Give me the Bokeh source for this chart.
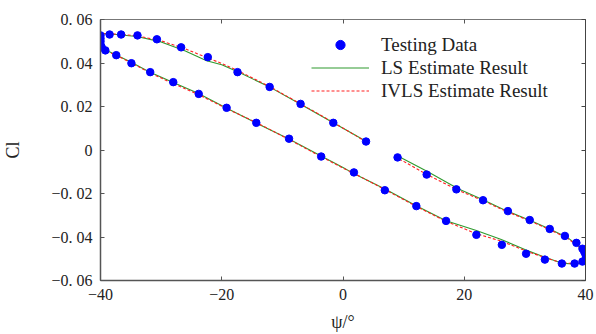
from bokeh.plotting import figure
from bokeh.models import LinearAxis, FixedTicker, Range1d, Legend, LegendItem
from bokeh.embed import file_html
from bokeh.resources import INLINE

# Testing data (psi in degrees, Cl)
test_psi = [3.8, -1.6, -7.0, -12.1, -17.4, -22.3, -26.7, -30.7, -33.9, -36.6,
            -38.5, -40.0, -40.0, -40.0, -40.0, -39.8, -39.2, -37.4, -34.9, -31.8,
            -28.0, -23.8, -19.2, -14.3, -8.9, -3.6, 1.8, 6.9, 12.1, 17.0,
            22.0, 26.2, 30.2, 33.3, 36.1, 38.2, 39.5, 40.0, 40.0, 39.8,
            39.5, 38.5, 36.6, 34.1, 30.8, 27.2, 23.1, 18.7, 13.8, 9.0]
test_cl = [0.0039, 0.0125, 0.0212, 0.0290, 0.0358, 0.0427, 0.0472, 0.0509, 0.0527, 0.0531,
           0.0531, 0.0527, 0.0513, 0.0500, 0.0486, 0.0472, 0.0458, 0.0436, 0.0399, 0.0358,
           0.0312, 0.0258, 0.0194, 0.0125, 0.0052, -0.0030, -0.0103, -0.0185, -0.0258, -0.0326,
           -0.0390, -0.0436, -0.0477, -0.0504, -0.0522, -0.0522, -0.0513, -0.0504, -0.0481, -0.0468,
           -0.0454, -0.0427, -0.0395, -0.0363, -0.0322, -0.0281, -0.0231, -0.0181, -0.0113, -0.0034]

# Estimated curves
est_psi = [3.8, -1.6, -7.0, -12.0, -17.0, -20.0, -22.5, -26.0, -30.0, -34.0,
           -37.0, -39.0, -40.0, -40.0, -39.6, -38.0, -35.0, -32.0, -28.0, -24.0,
           -19.0, -14.0, -9.0, -4.0, 0.0, 2.0, 7.0, 12.0, 17.0, 22.0,
           26.0, 30.0, 33.0, 36.0, 38.5, 39.7, 40.0, 39.0, 37.0, 34.0,
           31.0, 27.0, 23.0, 19.0, 14.0, 9.2]
ls_cl = [0.0040, 0.0125, 0.0210, 0.0288, 0.0355, 0.0392, 0.0410, 0.0455, 0.0497, 0.0522,
         0.0530, 0.0535, 0.0535, 0.0490, 0.0465, 0.0445, 0.0405, 0.0360, 0.0310, 0.0262,
         0.0190, 0.0120, 0.0052, -0.0022, -0.0080, -0.0112, -0.0180, -0.0255, -0.0325, -0.0370,
         -0.0410, -0.0458, -0.0490, -0.0520, -0.0525, -0.0512, -0.0475, -0.0445, -0.0402, -0.0362,
         -0.0325, -0.0280, -0.0228, -0.0178, -0.0100, -0.0030]
ivls_cl = [0.0038, 0.0127, 0.0212, 0.0290, 0.0360, 0.0398, 0.0425, 0.0465, 0.0502, 0.0525,
           0.0532, 0.0535, 0.0533, 0.0485, 0.0462, 0.0443, 0.0402, 0.0357, 0.0305, 0.0257,
           0.0188, 0.0122, 0.0050, -0.0025, -0.0083, -0.0110, -0.0183, -0.0258, -0.0328, -0.0385,
           -0.0418, -0.0462, -0.0492, -0.0518, -0.0523, -0.0510, -0.0478, -0.0448, -0.0405, -0.0365,
           -0.0328, -0.0283, -0.0232, -0.0185, -0.0115, -0.0040]

x_ticks = [-40, -20, 0, 20, 40]
x_labels = ["\u221240", "\u221220", "0", "20", "40"]
y_ticks = [-0.06, -0.04, -0.02, 0.0, 0.02, 0.04, 0.06]
y_labels = ["\u22120. 06", "\u22120. 04", "\u22120. 02", "0", "0. 02", "0. 04", "0. 06"]

FONT = "Liberation Serif"
TXT = "#222222"

p = figure(width=596, height=334, output_backend="svg", toolbar_location=None,
           x_range=Range1d(-40, 40), y_range=Range1d(-0.06, 0.06),
           min_border_left=97, min_border_right=11, min_border_top=19, min_border_bottom=52,
           x_axis_label="\u03c8/\u00b0", y_axis_label="Cl")
p.grid.visible = False
p.outline_line_color = "#777777"
p.outline_line_width = 1

for ax, ticks, labels in ((p.xaxis[0], x_ticks, x_labels), (p.yaxis[0], y_ticks, y_labels)):
    ax.ticker = FixedTicker(ticks=ticks)
    ax.major_label_overrides = {t: l for t, l in zip(ticks, labels)}
    ax.minor_tick_line_color = None
    ax.major_tick_in = 4
    ax.major_tick_out = 0
    ax.axis_line_color = "#555555"
    ax.axis_line_width = 1.5
    ax.major_tick_line_color = "#555555"
    ax.major_label_text_font = FONT
    ax.major_label_text_font_size = "16px"
    ax.major_label_text_color = TXT
    ax.axis_label_text_font = FONT
    ax.axis_label_text_font_size = "18px"
    ax.axis_label_text_font_style = "normal"
    ax.axis_label_text_color = TXT
    ax.major_label_standoff = 8

p.xaxis[0].axis_label_standoff = 9
p.yaxis[0].axis_label_standoff = 25

# Mirror ticks on top and right (labels left empty)
top = LinearAxis(ticker=FixedTicker(ticks=x_ticks), major_tick_in=4, major_tick_out=0,
                 minor_tick_line_color=None, major_label_standoff=0,
                 major_label_overrides={t: "" for t in x_ticks},
                 axis_line_color=None, major_tick_line_color="#555555")
right = LinearAxis(ticker=FixedTicker(ticks=y_ticks), major_tick_in=4, major_tick_out=0,
                   minor_tick_line_color=None, major_label_standoff=0,
                   major_label_overrides={t: "" for t in y_ticks},
                   axis_line_color="#444444", major_tick_line_color="#444444")
p.add_layout(top, "above")
p.add_layout(right, "right")

r_ls = p.line(est_psi, ls_cl, line_color="#2e9a2e", line_width=1.1)
r_iv = p.line(est_psi, ivls_cl, line_color="#ff2020", line_width=1.1, line_dash="3 2")
r_td = p.scatter(test_psi, test_cl, size=7.5, fill_color="#0000ff", line_color="#0000ff")

legend = Legend(items=[LegendItem(label="Testing Data", renderers=[r_td]),
                       LegendItem(label="LS Estimate Result", renderers=[r_ls]),
                       LegendItem(label="IVLS Estimate Result", renderers=[r_iv])],
                location=(211, 178), orientation="vertical",
                border_line_color=None, background_fill_alpha=0,
                glyph_width=58, glyph_height=23, label_height=23, label_standoff=12,
                padding=0, spacing=0, margin=0,
                label_text_font=FONT, label_text_font_size="19px", label_text_color=TXT)
p.add_layout(legend, "center")

open("out.html", "w").write(file_html(p, INLINE))
